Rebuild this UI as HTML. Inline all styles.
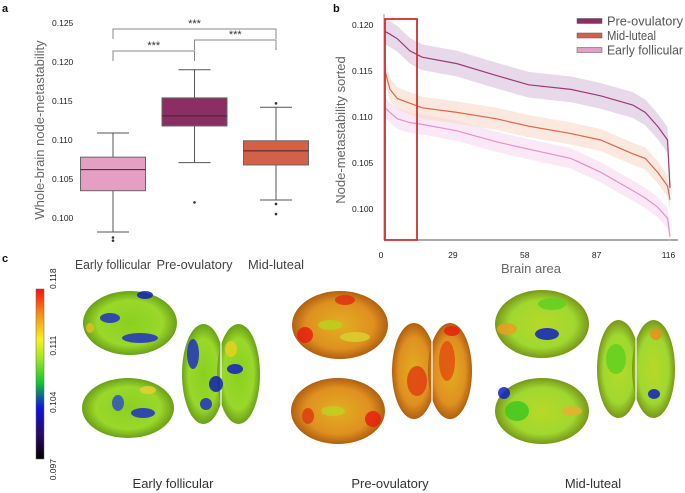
<!DOCTYPE html>
<html><head><meta charset="utf-8"><style>
body{margin:0;background:#fff;}
svg{display:block;font-family:"Liberation Sans",sans-serif;}
</style></head><body>
<svg id="fig" width="685" height="493" viewBox="0 0 685 493" xmlns="http://www.w3.org/2000/svg">
<defs>
<linearGradient id="cbar" x1="0" y1="1" x2="0" y2="0">
<stop offset="0" stop-color="#000000"/><stop offset="0.15" stop-color="#2a0a6a"/><stop offset="0.3" stop-color="#1010e0"/><stop offset="0.45" stop-color="#10c830"/><stop offset="0.6" stop-color="#a8e820"/><stop offset="0.7" stop-color="#f8f020"/><stop offset="0.85" stop-color="#f89010"/><stop offset="1" stop-color="#f81010"/>
</linearGradient>
<radialGradient id="gEarly"><stop offset="0" stop-color="#8ad020"/><stop offset="0.7" stop-color="#9ad82a"/><stop offset="1" stop-color="#6aa018"/></radialGradient>
<radialGradient id="gPre"><stop offset="0" stop-color="#e0b020"/><stop offset="0.7" stop-color="#e09020"/><stop offset="1" stop-color="#b06010"/></radialGradient>
<radialGradient id="gMid"><stop offset="0" stop-color="#b8d828"/><stop offset="0.7" stop-color="#a0d830"/><stop offset="1" stop-color="#789818"/></radialGradient>
</defs>
<g id="panelA"></g>
<g id="panelB"></g>
<g id="panelC"></g>
</svg>
<script>
// ---------- Panel A data ----------
const groups = ["Early follicular","Pre-ovulatory","Mid-luteal"];
const whiskerLow = [0.0982,0.1071,0.1023];
const q1 = [0.1035,0.1118,0.1068];
const medians = [0.1062,0.1131,0.1086];
const q3 = [0.1078,0.1154,0.1099];
const whiskerHigh = [0.1109,0.1190,0.1142];
const outliersEarly = [0.0975,0.0971];
const outliersPre = [0.1020];
const outliersMid = [0.1147,0.1018,0.1005];
const aTicks = [0.100,0.105,0.110,0.115,0.120,0.125];
const boxColors = ["#e59ec4","#8a2e63","#d2614a"];

// ---------- Panel B data ----------
const bIdx = [0,2,5,10,15,29,45,58,75,87,100,105,110,114,115];
const preVals = [0.1193,0.1190,0.1185,0.1172,0.1165,0.1158,0.1145,0.1135,0.1130,0.1123,0.1113,0.1105,0.1090,0.1075,0.1023];
const midVals = [0.1150,0.1130,0.1120,0.1115,0.1110,0.1105,0.1098,0.1090,0.1082,0.1075,0.1060,0.1055,0.1040,0.1025,0.1010];
const earlyVals = [0.1110,0.1105,0.1098,0.1094,0.1092,0.1085,0.1073,0.1065,0.1055,0.1040,0.1020,0.1012,0.1002,0.0990,0.0970];
const bandHalf = [0.0014,0.0012,0.0011];
const bYTicks = [0.100,0.105,0.110,0.115,0.120];
const bXTicks = [0,29,58,87,116];
const seriesNames = ["Pre-ovulatory","Mid-luteal","Early follicular"];
const lineColors = ["#9a3a78","#e0664a","#e890cc"];
const bandColors = ["#d8c0dc","#f8d8c8","#f8d8f0"];
const legendColors = ["#8a2e63","#d2614a","#e59ec4"];

// ---------- Panel C data ----------
const cbarTicks = [0.097,0.104,0.111,0.118];

const NS="http://www.w3.org/2000/svg";
function el(parent,tag,attrs,text){const e=document.createElementNS(NS,tag);for(const k in attrs)e.setAttribute(k,attrs[k]);if(text!==undefined)e.textContent=text;parent.appendChild(e);return e;}

// ===== Panel A =====
(function(){
const g=document.getElementById('panelA');
const ya=v=>218-(v-0.100)/0.005*39;
const xc=i=>113+i*81.5;
let t=el(g,'text',{x:2,y:12,'font-size':11,'font-weight':'bold',fill:'#111'},'a');

aTicks.forEach(v=>{const tx=el(g,'text',{x:52,y:ya(v)+3,'font-size':8.5,fill:'#222'},v.toFixed(3));
});
t=el(g,'text',{transform:'translate(44,130) rotate(-90)','text-anchor':'middle','font-size':13,fill:'#666'},'Whole-brain node-metastability');

const outs=[outliersEarly,outliersPre,outliersMid];
const labW=[76,76,56];
groups.forEach((n,i)=>{
 const x=xc(i),w=65;
 const wl=el(g,'line',{x1:x,x2:x,y1:ya(whiskerHigh[i]),y2:ya(q3[i]),stroke:'#555','stroke-width':1});
 
 const wl2=el(g,'line',{x1:x,x2:x,y1:ya(q1[i]),y2:ya(whiskerLow[i]),stroke:'#555','stroke-width':1});
 
 [whiskerHigh[i],whiskerLow[i]].forEach(v=>{const c=el(g,'line',{x1:x-16,x2:x+16,y1:ya(v),y2:ya(v),stroke:'#555','stroke-width':1});
 });
 const b=el(g,'rect',{x:x-w/2,y:ya(q3[i]),width:w,height:ya(q1[i])-ya(q3[i]),fill:boxColors[i],stroke:'#666','stroke-width':1});
 
 const m=el(g,'line',{x1:x-w/2,x2:x+w/2,y1:ya(medians[i]),y2:ya(medians[i]),stroke:'#4a2030','stroke-width':1});
 
 outs[i].forEach(v=>{const o=el(g,'circle',{cx:x,cy:ya(v),r:1.3,fill:'#333'});
 });
 const lab=el(g,'text',{x:x,y:269,'text-anchor':'middle','font-size':13,fill:'#444',textLength:labW[i],lengthAdjust:'spacingAndGlyphs'},n);
 
});
function bracket(i,j,y,name){
 const p=el(g,'path',{d:`M${xc(i)},${y+10} V${y} H${xc(j)} V${y+10}`,fill:'none',stroke:'#888','stroke-width':1});
 
 const s=el(g,'text',{x:(xc(i)+xc(j))/2,y:y-2,'text-anchor':'middle','font-size':11,fill:'#333'},'***');
 
}
bracket(0,1,51,'bracket-early-pre');
bracket(0,2,29,'bracket-early-mid');
bracket(1,2,40,'bracket-pre-mid');
})();

// ===== Panel B =====
(function(){
const g=document.getElementById('panelB');
const xb=i=>385+i*(670-385)/115;
const yb=v=>209-(v-0.100)/0.005*46;
let t=el(g,'text',{x:333,y:12,'font-size':11,'font-weight':'bold',fill:'#111'},'b');

let a=el(g,'line',{x1:384,x2:384,y1:14,y2:240,stroke:'#bbb','stroke-width':1.5});

a=el(g,'line',{x1:384,x2:678,y1:240,y2:240,stroke:'#555','stroke-width':1});

bYTicks.forEach(v=>{const tx=el(g,'text',{x:352,y:yb(v)+3,'font-size':8.5,fill:'#222'},v.toFixed(3));
});
bXTicks.forEach(v=>{const tx=el(g,'text',{x:xb(v)-4,y:258,'text-anchor':'middle','font-size':8.5,fill:'#222'},String(v));
});
t=el(g,'text',{x:531,y:273,'text-anchor':'middle','font-size':13,fill:'#666'},'Brain area');

t=el(g,'text',{transform:'translate(345,130) rotate(-90)','text-anchor':'middle','font-size':13,fill:'#666'},'Node-metastability sorted');

const all=[preVals,midVals,earlyVals];
[2,1,0].forEach(k=>{
 const vals=all[k];
 let up=bIdx.map((i,j)=>`${xb(i)},${yb(vals[j]+bandHalf[k])}`);
 let dn=bIdx.map((i,j)=>`${xb(i)},${yb(vals[j]-bandHalf[k])}`).reverse();
 const p=el(g,'polygon',{points:up.concat(dn).join(' '),fill:bandColors[k],opacity:0.6});
 
});
[2,1,0].forEach(k=>{
 const vals=all[k];
 const l=el(g,'polyline',{points:bIdx.map((i,j)=>`${xb(i)},${yb(vals[j])}`).join(' '),fill:'none',stroke:lineColors[k],'stroke-width':1.2});
 
});
const r=el(g,'rect',{x:385,y:19,width:32,height:221,fill:'none',stroke:'#d03030','stroke-width':1.8});

const legW=[76,49,76];
seriesNames.forEach((n,k)=>{
 const y=21+k*14.5;
 const s=el(g,'rect',{x:577,y:y-2.5,width:25,height:5,fill:legendColors[k],stroke:'#555','stroke-width':0.5});
 
 const tx=el(g,'text',{x:607,y:y+4.5,'font-size':13,fill:'#555',textLength:legW[k],lengthAdjust:'spacingAndGlyphs'},n);
 
});
})();

// ===== Panel C =====
(function(){
const g=document.getElementById('panelC');
let t=el(g,'text',{x:2,y:262,'font-size':11,'font-weight':'bold',fill:'#111'},'c');

const cb=el(g,'rect',{x:36,y:289,width:8,height:170,fill:'url(#cbar)',stroke:'#666','stroke-width':0.5});

const yc=v=>459-(v-0.097)/(0.118-0.097)*170;
cbarTicks.forEach(v=>{const tx=el(g,'text',{transform:`translate(56,${yc(v)}) rotate(-90)`,'text-anchor':v===0.097?'end':(v===0.118?'start':'middle'),'font-size':8.5,fill:'#222'},v.toFixed(3));
 });
function brain(cx,cy,rx,ry,fill,patches,name,dorsal){
 const gg=el(g,'g',{});
 
 if(dorsal){
  el(gg,'ellipse',{cx:cx-rx/2+2,cy:cy,rx:rx/2+2,ry:ry,fill:fill});
  el(gg,'ellipse',{cx:cx+rx/2-2,cy:cy,rx:rx/2+2,ry:ry,fill:fill});
  el(gg,'line',{x1:cx,x2:cx,y1:cy-ry,y2:cy+ry,stroke:'#fff','stroke-width':1.2});
 } else {
  el(gg,'ellipse',{cx:cx,cy:cy,rx:rx,ry:ry,fill:fill});
 }
 patches.forEach(p=>el(gg,'ellipse',{cx:cx+p[0],cy:cy+p[1],rx:p[2],ry:p[3],fill:p[4],opacity:0.85}));
}
brain(130,323,47,32,'url(#gEarly)',[[-20,-5,10,5,'#2030c0'],[10,15,18,5,'#2030c0'],[15,-28,8,4,'#1020b0'],[-40,5,4,5,'#e0c020']],'brain-early-lateral-top');
brain(128,408,46,30,'url(#gEarly)',[[15,5,12,5,'#2030c0'],[-10,-5,6,8,'#3050c0'],[20,-18,8,4,'#e8d030']],'brain-early-lateral-bottom');
brain(221,374,39,50,'url(#gEarly)',[[-28,-20,6,15,'#2030c0'],[14,-5,8,5,'#1020c0'],[-5,10,7,8,'#1020b0'],[-15,30,6,6,'#2030c0'],[10,-25,6,8,'#e8d020']],'brain-early-dorsal',true);
brain(340,325,48,34,'url(#gPre)',[[-35,10,8,8,'#e82010'],[-10,0,12,5,'#b8d020'],[5,-25,10,5,'#e03010'],[15,12,15,5,'#d8d030']],'brain-pre-lateral-top');
brain(338,411,47,33,'url(#gPre)',[[35,8,8,8,'#e82010'],[-5,0,12,5,'#c0d020'],[-30,5,6,8,'#d84010']],'brain-pre-lateral-bottom');
brain(432,371,40,48,'url(#gPre)',[[-15,10,10,15,'#e04010'],[15,-10,8,20,'#e05010'],[20,-40,8,5,'#e82010']],'brain-pre-dorsal',true);
brain(542,324,47,34,'url(#gMid)',[[5,10,12,6,'#1020c0'],[-35,5,10,6,'#e8a020'],[10,-20,14,6,'#60d020']],'brain-mid-lateral-top');
brain(542,411,47,33,'url(#gMid)',[[-38,-18,6,6,'#1020c0'],[-25,0,12,10,'#40c820'],[30,0,10,5,'#e8b030']],'brain-mid-lateral-bottom');
brain(636,369,39,49,'url(#gMid)',[[18,25,6,5,'#1020c0'],[20,-35,6,6,'#e89020'],[-20,-10,10,15,'#60d020']],'brain-mid-dorsal',true);
[['Early follicular',173],['Pre-ovulatory',390],['Mid-luteal',593]].forEach(d=>{
 const tx=el(g,'text',{x:d[1],y:488,'text-anchor':'middle','font-size':13,fill:'#333'},d[0]);
 
});
})();
</script>
</body></html>
